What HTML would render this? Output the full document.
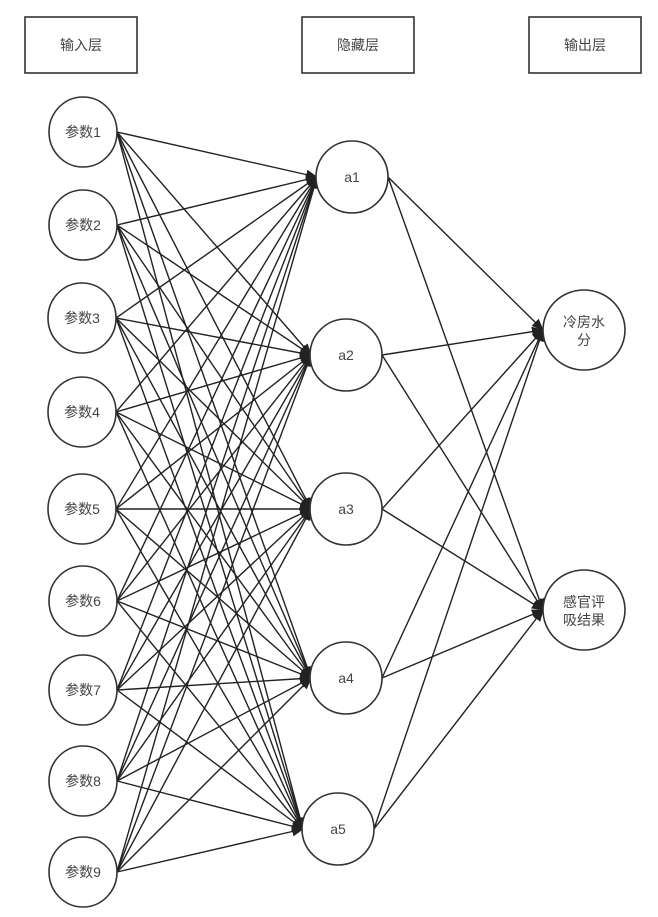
<!DOCTYPE html>
<html><head><meta charset="utf-8"><style>body{margin:0;background:#fff}</style></head>
<body>
<svg width="658" height="912" xmlns="http://www.w3.org/2000/svg" font-family="Liberation Sans, Noto Sans CJK SC, sans-serif" font-size="14">
<defs><marker id="ar" markerWidth="12" markerHeight="10" refX="11" refY="5" orient="auto" markerUnits="userSpaceOnUse"><path d="M0,0 L12,5 L0,10 z" fill="#222"/></marker></defs>
<g fill="#fff" stroke="#333" stroke-width="1.6">
<rect x="25" y="17" width="112" height="56"/><rect x="302" y="17" width="112" height="56"/><rect x="529" y="17" width="112" height="56"/>
</g>
<g text-anchor="middle" fill="#444">
<text x="81" y="50">输入层</text><text x="358" y="50">隐藏层</text><text x="585" y="50">输出层</text>
</g>
<g id="lines" stroke="#222" stroke-width="1.4" marker-end="url(#ar)"></g>
<g id="nodes"></g>
<script>
var ins=[[83,132],[83,225],[82,318],[82,412],[82,509],[83,601],[83,690],[83,781],[83,872]];
var hid=[[352,177],[346,355],[346,509],[346,678],[338,829]];
var out=[[584,330,"冷房水","分"],[584,610,"感官评","吸结果"]];
var L=document.getElementById('lines'),N=document.getElementById('nodes'),ns="http://www.w3.org/2000/svg";
function ln(a,b,c,d){var l=document.createElementNS(ns,'line');l.setAttribute('x1',a);l.setAttribute('y1',b);l.setAttribute('x2',c);l.setAttribute('y2',d);L.appendChild(l);}
ins.forEach(function(p){hid.forEach(function(h){ln(p[0]+34,p[1],h[0]-35,h[1]);});});
hid.forEach(function(h){out.forEach(function(o){ln(h[0]+36,h[1],o[0]-41,o[1]);});});
function circ(x,y,rx,ry){var c=document.createElementNS(ns,'ellipse');c.setAttribute('cx',x);c.setAttribute('cy',y);c.setAttribute('rx',rx);c.setAttribute('ry',ry);c.setAttribute('fill','#fff');c.setAttribute('stroke','#333');c.setAttribute('stroke-width','1.6');N.appendChild(c);}
function tx(x,y,s){var t=document.createElementNS(ns,'text');t.setAttribute('x',x);t.setAttribute('y',y);t.setAttribute('text-anchor','middle');t.setAttribute('fill','#444');t.textContent=s;N.appendChild(t);}
ins.forEach(function(p,i){circ(p[0],p[1],34,35);tx(p[0],p[1]+5,'参数'+(i+1));});
hid.forEach(function(p,i){circ(p[0],p[1],36,36);tx(p[0],p[1]+5,'a'+(i+1));});
out.forEach(function(o){circ(o[0],o[1],41,40);tx(o[0],o[1]-3,o[2]);tx(o[0],o[1]+15,o[3]);});
</script>
</svg>
</body></html>
